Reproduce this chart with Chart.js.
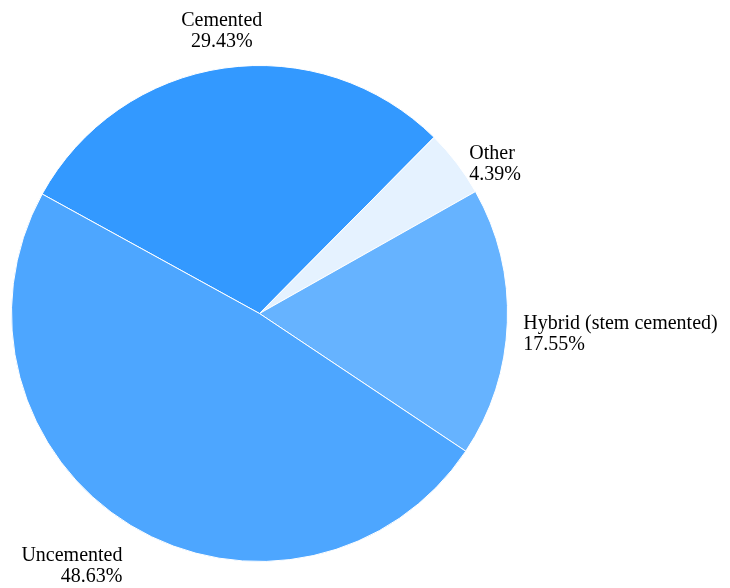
<!DOCTYPE html>
<html>
<head>
<meta charset="utf-8">
<script src="https://cdn.jsdelivr.net/npm/chart.js@4"></script>
<style>
  html, body { margin: 0; padding: 0; background: #fff; }
  #wrap { width: 730px; height: 588px; }
</style>
</head>
<body>
<div id="wrap"><canvas id="grafico" width="730" height="588"></canvas></div>
<script>
const categorias = ['Cemented', 'Other', 'Hybrid (stem cemented)', 'Uncemented'];
const valores = [29.43, 4.39, 17.55, 48.63];
const rotulos = ['29.43%', '4.39%', '17.55%', '48.63%'];
const cores = ['#3399ff', '#e5f2ff', '#66b3ff', '#4da6ff'];

// desenha os rótulos fora da pizza
const rotulosExternos = {
  id: 'rotulosExternos',
  afterDatasetsDraw(chart) {
    const ctx = chart.ctx;
    const meta = chart.getDatasetMeta(0);
    ctx.save();
    ctx.font = '20px "Liberation Serif", "Times New Roman", serif';
    ctx.fillStyle = '#000';
    ctx.textBaseline = 'alphabetic';
    const altLinha = 21, cap = 14;
    meta.data.forEach((arc, i) => {
      const p = arc.getProps(['x', 'y', 'startAngle', 'endAngle', 'outerRadius'], true);
      const meio = (p.startAngle + p.endAngle) / 2;
      const dx = Math.cos(meio), dy = Math.sin(meio);
      const ax = p.x + dx * (p.outerRadius + 16);
      const ay = p.y + dy * (p.outerRadius + 16);
      const linhas = [categorias[i], rotulos[i]];
      const altBloco = cap + altLinha * (linhas.length - 1);
      let topo;
      if (dy < -0.75) topo = ay - 5 - altBloco;
      else if (dy > 0.75) topo = ay + 8;
      else topo = ay + 9 - altBloco / 2;
      if (dx > 0.25) ctx.textAlign = 'left';
      else if (dx < -0.25) ctx.textAlign = 'right';
      else ctx.textAlign = 'center';
      linhas.forEach((t, j) => ctx.fillText(t, ax, topo + cap + j * altLinha));
    });
    ctx.restore();
  }
};

new Chart(document.getElementById('grafico'), {
  type: 'pie',
  data: {
    labels: categorias,
    datasets: [{
      data: valores,
      backgroundColor: cores,
      borderColor: '#ffffff',
      borderWidth: 1
    }]
  },
  options: {
    responsive: false,
    animation: false,
    rotation: -61.2,
    layout: { padding: { left: 11, top: 65, right: 222, bottom: 26 } },
    plugins: {
      legend: { display: false },
      tooltip: { enabled: false }
    }
  },
  plugins: [rotulosExternos]
});
</script>
</body>
</html>
